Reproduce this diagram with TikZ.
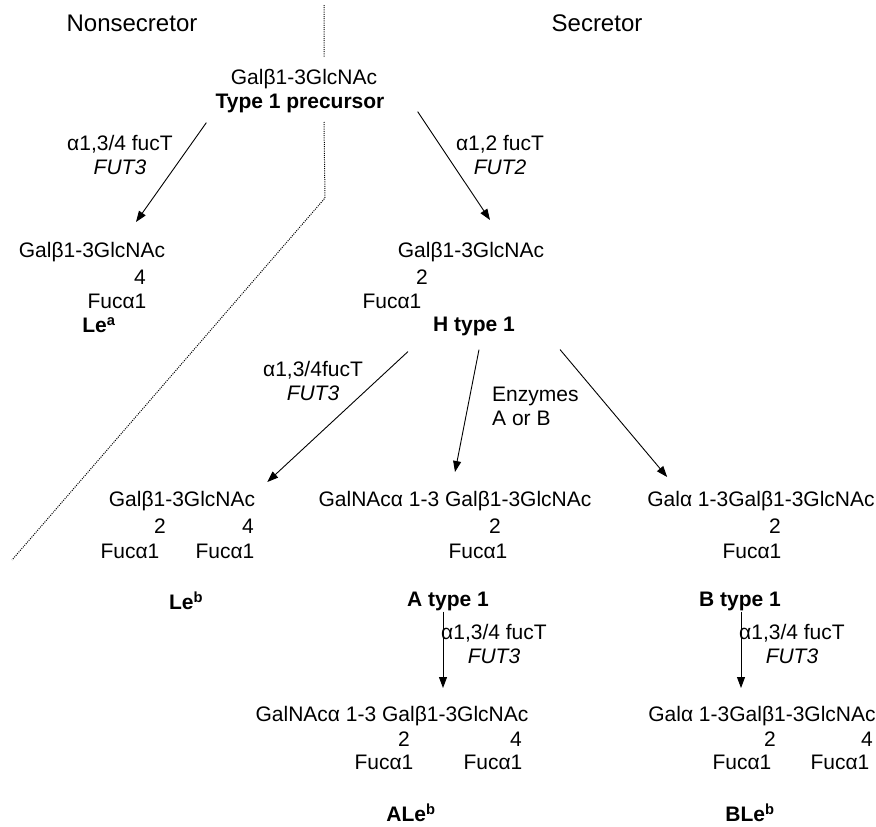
\documentclass[tikz,border=0pt]{standalone}
\usepackage{fontspec}
\setmainfont{Liberation Sans}
\usetikzlibrary{arrows.meta}
\tikzset{
  txt/.style={inner sep=0pt, font=\fontsize{21}{25}\selectfont},
  bold/.style={inner sep=0pt, font=\fontsize{21}{25}\selectfont\bfseries},
  lbl/.style={inner sep=0pt, align=center, font=\fontsize{21}{24}\selectfont},
  hdr/.style={inner sep=0pt, font=\fontsize{24}{28}\selectfont},
  arr/.style={-{Triangle[length=11pt,width=8pt]}, line width=0.9pt},
  divider/.style={line width=1pt, dash pattern=on 1pt off 1.2pt}
}
\begin{document}
\begin{tikzpicture}[x=1pt,y=-1pt]
      \useasboundingbox (0,0) rectangle (876,827);
      \draw[divider] (324,5) -- (324,57) (324,122) -- (325,198) -- (12,560);
      \draw
        (132,23) node[hdr] (nonsec){Nonsecretor}
        (597,23) node[hdr] (sec){Secretor}
        (304,79) node[txt] (pre){Galβ1-3GlcNAc}
        (300,103) node[bold] (prelbl){Type 1 precursor}
        (120,155) node[lbl] (fut3a){α1,3/4 fucT\\\textit{FUT3}}
        (500,155) node[lbl] (fut2){α1,2 fucT\\\textit{FUT2}}
        (92,252) node[txt] (leaC){Galβ1-3GlcNAc}
        (140,277) node[txt] (lea4){4}
        (117,301) node[txt] (leaF){Fucα1}
        (99,325) node[bold] (leaL){Le\textsuperscript{a}}
        (471,252) node[txt] (hC){Galβ1-3GlcNAc}
        (422,277) node[txt] (h2){2}
        (392,301) node[txt] (hF){Fucα1}
        (474,326) node[bold] (hL){H type 1}
        (313,381) node[lbl] (fut3b){α1,3/4fucT\\\textit{FUT3}}
        (492,406) node[lbl, anchor=west, align=left] (enzAB){Enzymes\\A or B}
        (182,501) node[txt] (lebC){Galβ1-3GlcNAc}
        (160,526) node[txt] (leb2){2}
        (248,526) node[txt] (leb4){4}
        (130,551) node[txt] (lebF1){Fucα1}
        (225,551) node[txt] (lebF2){Fucα1}
        (186,601) node[bold] (lebL){Le\textsuperscript{b}}
        (455,501) node[txt] (aC){GalNAcα 1-3 Galβ1-3GlcNAc}
        (495,526) node[txt] (a2){2}
        (478,551) node[txt] (aF){Fucα1}
        (448,601) node[bold] (aL){A type 1}
        (761,501) node[txt] (bC){Galα 1-3Galβ1-3GlcNAc}
        (775,526) node[txt] (b2){2}
        (752,551) node[txt] (bF){Fucα1}
        (740,601) node[bold] (bL){B type 1}
        (494,644) node[lbl] (fut3c){α1,3/4 fucT\\\textit{FUT3}}
        (792,644) node[lbl] (fut3d){α1,3/4 fucT\\\textit{FUT3}}
        (392,716) node[txt] (aleC){GalNAcα 1-3 Galβ1-3GlcNAc}
        (404,739) node[txt] (ale2){2}
        (516,739) node[txt] (ale4){4}
        (384,762) node[txt] (aleF1){Fucα1}
        (493,762) node[txt] (aleF2){Fucα1}
        (411,813) node[bold] (aleL){ALe\textsuperscript{b}}
        (762,716) node[txt] (bleC){Galα 1-3Galβ1-3GlcNAc}
        (770,739) node[txt] (ble2){2}
        (867,739) node[txt] (ble4){4}
        (742,762) node[txt] (bleF1){Fucα1}
        (840,762) node[txt] (bleF2){Fucα1}
        (750,813) node[bold] (bleL){BLe\textsuperscript{b}};
      \begin{scope}[arr]
        \draw ([xshift=-9pt,yshift=-10pt]prelbl.south west) to ([xshift=44pt,yshift=20pt]leaC.north);
        \draw ([xshift=33pt,yshift=1pt]prelbl.south east) to ([xshift=19pt,yshift=22pt]hC.north);
        \draw ([xshift=-25pt,yshift=-16pt]hL.south west) to ([xshift=12pt,yshift=9pt]lebC.north east);
        \draw ([xshift=5pt,yshift=-14pt]hL.south) to ([xshift=0pt,yshift=19pt]aC.north);
        \draw ([xshift=45pt,yshift=-14pt]hL.south east) to ([xshift=20pt,yshift=14pt]bC.north west);
        \draw ([xshift=-5pt,yshift=-1pt]aL.south) to ([xshift=51pt,yshift=18pt]aleC.north);
        \draw ([xshift=1pt,yshift=-1pt]bL.south) to ([xshift=-21pt,yshift=18pt]bleC.north);
      \end{scope}
    \end{tikzpicture}
\end{document}
